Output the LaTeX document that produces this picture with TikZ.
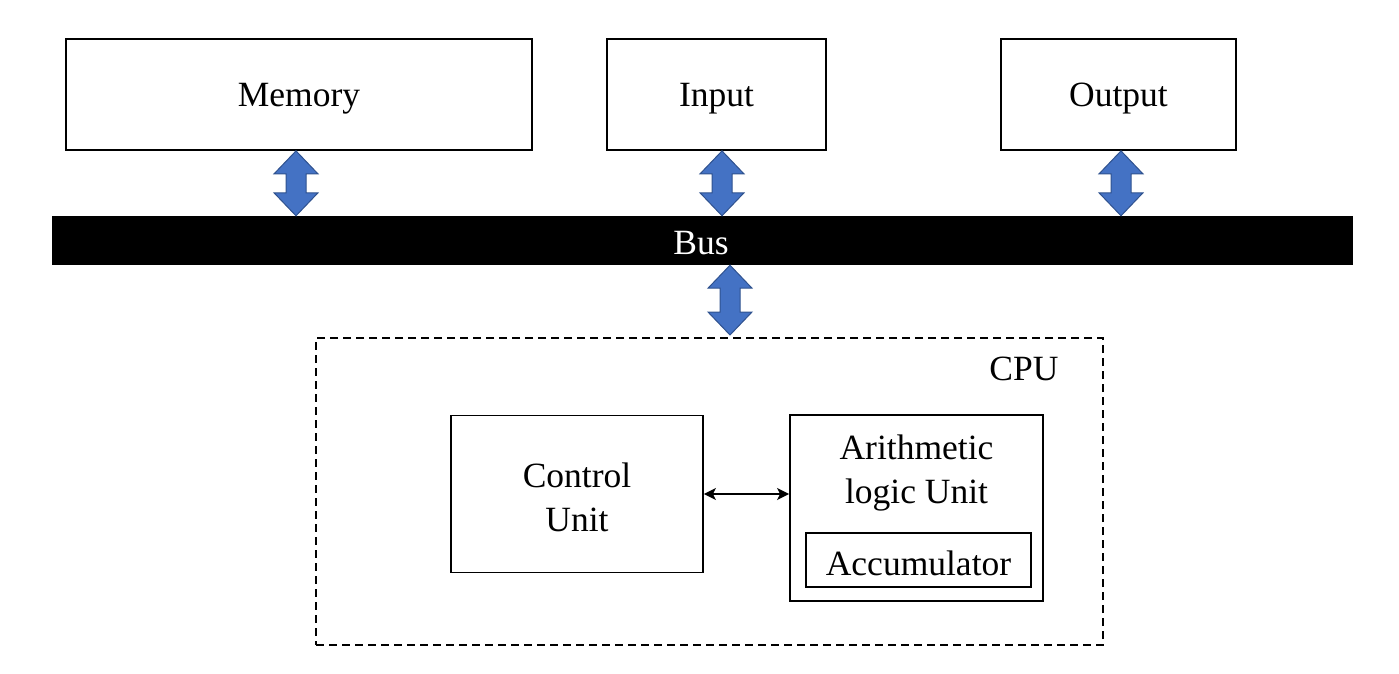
\documentclass[tikz,border=0pt]{standalone}
\usepackage{fontspec}
\setmainfont{Liberation Serif}
\usetikzlibrary{calc,arrows.meta}
\definecolor{arrfill}{HTML}{4472C4}
\definecolor{arrline}{HTML}{2F528F}
\tikzset{
  box/.style={draw=black, line width=1.8pt, fill=white, inner sep=0pt},
  dashbox/.style={draw=black, line width=1.6pt, dash pattern=on 8pt off 5pt, inner sep=0pt},
  lbl/.style={font=\fontsize{35.5}{44}\selectfont, inner sep=0pt, align=center},
  blockarr/.style={fill=arrfill, draw=arrline, line width=1pt, line join=miter},
  thinarr/.style={line width=1.8pt, {Stealth[length=12pt,width=12pt,inset=3pt]}-{Stealth[length=12pt,width=12pt,inset=3pt]}}
}
\newcommand\bidir[2]{%
  \draw[blockarr] (#1) -- ++(22,23) -- ++(-12,0) -- ($(#2)+(10,-23)$) -- ++(12,0)
    -- (#2) -- ++(-22,-23) -- ++(12,0) -- ($(#1)+(-10,23)$) -- ++(-12,0) -- cycle;}
\begin{document}
\begin{tikzpicture}[x=1pt,y=-1pt]
\useasboundingbox (0,0) rectangle (1399,674);
% top boxes
\node[box, minimum width=466, minimum height=111] (mem) at (299,94.5) {};
\node[lbl] (memlbl) at (299,99) {Memory};
\node[box, minimum width=219, minimum height=111] (inp) at (716.5,94.5) {};
\node[lbl] (inplbl) at (716.5,99) {Input};
\node[box, minimum width=235, minimum height=111] (out) at (1118.5,94.5) {};
\node[lbl] (outlbl) at (1118.5,99) {Output};
% bus
\node[fill=black, inner sep=0pt, minimum width=1301, minimum height=49] (bus) at (702.5,240.5) {};
\node[lbl, text=white] (buslbl) at (701,243) {Bus};
% CPU
\node[dashbox, minimum width=787, minimum height=307] (cpu) at (709.5,491.5) {};
\node[lbl] (cpulbl) at (1024,369) {CPU};
\node[box, minimum width=252, minimum height=157] (cu) at (577,494) {};
\node[lbl] (culbl) at (577,497) {Control\\Unit};
\node[box, minimum width=253, minimum height=186] (alu) at (916.5,508) {};
\node[lbl] (alulbl) at (916.5,473) {Arithmetic\\logic Unit};
\node[box, minimum width=225, minimum height=54] (acc) at (918.5,560) {};
\node[lbl] (acclbl) at (918.5,563) {Accumulator};
% block arrows
\coordinate (xm) at (296,0);
\coordinate (xi) at (722,0);
\coordinate (xo) at (1121,0);
\coordinate (xc) at (730,0);
\coordinate (cputop) at (730,335);
\bidir{xm |- mem.south}{xm |- bus.north}
\bidir{xi |- inp.south}{xi |- bus.north}
\bidir{xo |- out.south}{xo |- bus.north}
\bidir{xc |- bus.south}{cputop}
% control <-> ALU
\draw[thinarr] (cu.east) -- (cu.east -| alu.west);
\end{tikzpicture}
\end{document}
